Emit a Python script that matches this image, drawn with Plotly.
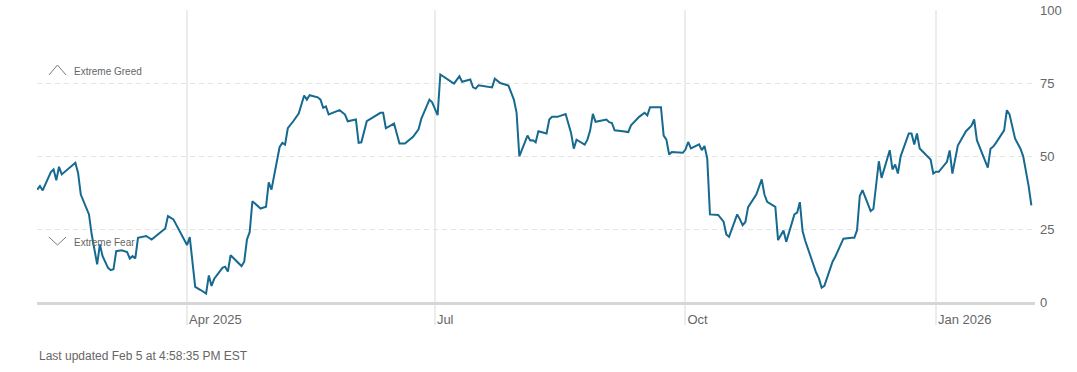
import plotly.graph_objects as go

dates = [
    "2025-02-05", "2025-02-06", "2025-02-07", "2025-02-10", "2025-02-11", "2025-02-12", "2025-02-13", "2025-02-14",
    "2025-02-19", "2025-02-20", "2025-02-21", "2025-02-24", "2025-02-25", "2025-02-27", "2025-02-28", "2025-03-01",
    "2025-03-03", "2025-03-04", "2025-03-05", "2025-03-06", "2025-03-08", "2025-03-10", "2025-03-11", "2025-03-12",
    "2025-03-13", "2025-03-14", "2025-03-17", "2025-03-19", "2025-03-24", "2025-03-25", "2025-03-27", "2025-04-01",
    "2025-04-02", "2025-04-04", "2025-04-06", "2025-04-08", "2025-04-09", "2025-04-10", "2025-04-11", "2025-04-13",
    "2025-04-14", "2025-04-15", "2025-04-16", "2025-04-17", "2025-04-19", "2025-04-21", "2025-04-22", "2025-04-23",
    "2025-04-24", "2025-04-25", "2025-04-28", "2025-04-30", "2025-05-01", "2025-05-02", "2025-05-05", "2025-05-06",
    "2025-05-07", "2025-05-08", "2025-05-10", "2025-05-12", "2025-05-14", "2025-05-15", "2025-05-16", "2025-05-19",
    "2025-05-20", "2025-05-21", "2025-05-22", "2025-05-23", "2025-05-27", "2025-05-28", "2025-05-29", "2025-05-30",
    "2025-06-02", "2025-06-03", "2025-06-04", "2025-06-06", "2025-06-11", "2025-06-12", "2025-06-13", "2025-06-16",
    "2025-06-18", "2025-06-20", "2025-06-23", "2025-06-25", "2025-06-26", "2025-06-29", "2025-06-30", "2025-07-02",
    "2025-07-03", "2025-07-08", "2025-07-10", "2025-07-11", "2025-07-14", "2025-07-15", "2025-07-16", "2025-07-17",
    "2025-07-21", "2025-07-22", "2025-07-23", "2025-07-25", "2025-07-28", "2025-07-30", "2025-07-31", "2025-08-01",
    "2025-08-04", "2025-08-05", "2025-08-06", "2025-08-07", "2025-08-08", "2025-08-11", "2025-08-12", "2025-08-13",
    "2025-08-15", "2025-08-18", "2025-08-20", "2025-08-21", "2025-08-22", "2025-08-25", "2025-08-26", "2025-08-27",
    "2025-08-28", "2025-08-29", "2025-09-02", "2025-09-03", "2025-09-04", "2025-09-05", "2025-09-08", "2025-09-10",
    "2025-09-11", "2025-09-14", "2025-09-16", "2025-09-17", "2025-09-18", "2025-09-22", "2025-09-23", "2025-09-24",
    "2025-09-25", "2025-09-26", "2025-09-30", "2025-10-01", "2025-10-02", "2025-10-03", "2025-10-06", "2025-10-07",
    "2025-10-08", "2025-10-09", "2025-10-10", "2025-10-13", "2025-10-15", "2025-10-16", "2025-10-17", "2025-10-20",
    "2025-10-21", "2025-10-22", "2025-10-23", "2025-10-24", "2025-10-27", "2025-10-29", "2025-10-30", "2025-10-31",
    "2025-11-03", "2025-11-04", "2025-11-06", "2025-11-07", "2025-11-10", "2025-11-11", "2025-11-12", "2025-11-13",
    "2025-11-14", "2025-11-18", "2025-11-19", "2025-11-20", "2025-11-21", "2025-11-24", "2025-11-25", "2025-11-28",
    "2025-12-01", "2025-12-02", "2025-12-03", "2025-12-04", "2025-12-05", "2025-12-08", "2025-12-09", "2025-12-11",
    "2025-12-12", "2025-12-15", "2025-12-16", "2025-12-17", "2025-12-18", "2025-12-19", "2025-12-22", "2025-12-23",
    "2025-12-24", "2025-12-25", "2025-12-26", "2025-12-29", "2025-12-30", "2025-12-31", "2026-01-01", "2026-01-02",
    "2026-01-05", "2026-01-06", "2026-01-07", "2026-01-09", "2026-01-12", "2026-01-14", "2026-01-15", "2026-01-16",
    "2026-01-18", "2026-01-20", "2026-01-21", "2026-01-22", "2026-01-23", "2026-01-26", "2026-01-27", "2026-01-28",
    "2026-01-30", "2026-02-01", "2026-02-02", "2026-02-04", "2026-02-05",
]

index_values = [
    38.5, 39.7, 38.2, 44.5, 45.4, 41.7, 46.3, 43.7,
    47.7, 44.2, 36.8, 30.0, 23.1, 12.9, 19.7, 15.7,
    11.7, 10.9, 11.2, 17.4, 17.7, 17.1, 14.9, 15.7,
    14.9, 22.0, 22.6, 21.4, 25.2, 29.4, 28.3, 19.5,
    22.2, 5.2, 4.1, 2.9, 9.1, 5.5, 8.0, 10.6,
    11.7, 12.1, 10.4, 16.0, 14.3, 12.3, 13.8, 21.4,
    23.9, 34.5, 32.0, 32.6, 41.0, 38.5, 53.1, 54.5,
    53.9, 59.5, 61.9, 64.5, 70.7, 69.3, 70.8, 70.1,
    69.3, 66.5, 67.0, 64.2, 65.7, 64.8, 64.2, 61.9,
    62.5, 54.5, 54.7, 61.9, 64.8, 64.8, 59.5, 61.1,
    54.3, 54.3, 56.6, 59.1, 62.7, 69.3, 68.4, 64.0,
    77.9, 74.8, 77.3, 75.4, 76.2, 73.5, 73.1, 74.2,
    73.5, 73.5, 76.5, 75.0, 74.1, 69.3, 64.8, 49.9,
    57.0, 55.3, 55.4, 54.7, 58.5, 57.7, 62.5, 63.4,
    63.4, 64.4, 57.9, 52.5, 55.6, 53.9, 55.6, 58.7,
    64.4, 61.7, 62.5, 61.6, 61.3, 58.8, 58.5, 58.2,
    60.5, 63.4, 64.8, 63.9, 66.7, 66.7, 57.0, 55.6,
    50.5, 51.4, 51.1, 52.2, 54.8, 52.6, 54.0, 52.0,
    53.4, 49.1, 30.0, 29.8, 27.5, 23.1, 22.3, 30.0,
    28.3, 26.3, 27.4, 32.5, 36.8, 42.0, 36.8, 34.3,
    32.6, 21.2, 24.5, 20.6, 30.0, 30.6, 34.2, 24.3,
    20.9, 10.0, 8.1, 4.9, 5.5, 13.8, 15.5, 21.7,
    22.0, 22.0, 24.6, 36.3, 38.3, 31.1, 31.9, 48.2,
    42.5, 52.0, 45.4, 47.1, 44.0, 49.9, 57.7, 57.7,
    53.9, 57.7, 52.6, 49.7, 48.8, 44.0, 44.6, 44.6,
    48.0, 51.9, 44.0, 53.6, 58.5, 60.4, 62.5, 55.4,
    50.7, 46.0, 52.5, 53.2, 54.5, 58.8, 65.7, 64.2,
    56.0, 52.5, 49.9, 39.7, 33.1,
]

x_tick_vals = ["2025-04-01", "2025-07-01", "2025-10-01", "2026-01-01"]
x_tick_text = ["Apr 2025", "Jul", "Oct", "Jan 2026"]
y_tick_vals = [0, 25, 50, 75, 100]
y_tick_text = ["0", "25", "50", "75", "100"]

FONT = "Liberation Sans, Arial, Helvetica, sans-serif"
GRAY = "#666666"
ICON = "#7a7a7a"

fig = go.Figure()
fig.add_trace(go.Scatter(
    x=dates, y=index_values, mode="lines",
    line=dict(color="#16698f", width=2),
    hoverinfo="skip", showlegend=False,
))

fig.update_layout(
    width=1077, height=372, autosize=False,
    margin=dict(l=37, r=42, t=10, b=70),
    paper_bgcolor="white", plot_bgcolor="white",
    font=dict(family=FONT, color=GRAY, size=13),
    xaxis=dict(
        type="date", automargin=False,
        range=["2025-02-04 22:00", "2026-02-06 08:00"],
        tickmode="array", tickvals=x_tick_vals, ticktext=x_tick_text,
        showgrid=True, gridcolor="#ececec", gridwidth=1.5,
        ticks="outside", ticklen=20, tickcolor="#ececec", tickwidth=1.5,
        ticklabelposition="outside right", ticklabelstandoff=4,
        tickfont=dict(size=13, color=GRAY),
        showline=True, linecolor="#d6d6d6", linewidth=2.5,
        zeroline=False, fixedrange=True,
    ),
    yaxis=dict(
        side="right", range=[0, 100], automargin=False,
        tickmode="array", tickvals=y_tick_vals, ticktext=y_tick_text,
        showgrid=True, gridcolor="#e4e4e4", griddash="5px,4px", gridwidth=1,
        zeroline=False, showline=False,
        ticks="", ticklabelstandoff=4,
        tickfont=dict(size=13, color=GRAY),
        fixedrange=True,
    ),
    shapes=[
        dict(type="path", xref="paper", yref="paper",
             path="M 0.0120 0.7774 L 0.0205 0.8116 L 0.0291 0.7774",
             line=dict(color=ICON, width=1)),
        dict(type="path", xref="paper", yref="paper",
             path="M 0.0120 0.2226 L 0.0205 0.1952 L 0.0291 0.2226",
             line=dict(color=ICON, width=1)),
    ],
    annotations=[
        dict(xref="paper", yref="paper", x=0.0355, y=0.788, text="Extreme Greed", showarrow=False,
             font=dict(family=FONT, size=10, color=GRAY), xanchor="left", yanchor="middle"),
        dict(xref="paper", yref="paper", x=0.0355, y=0.205, text="Extreme Fear", showarrow=False,
             font=dict(family=FONT, size=10, color=GRAY), xanchor="left", yanchor="middle"),
        dict(xref="paper", yref="paper", x=0, y=-0.185, text="Last updated Feb 5 at 4:58:35 PM EST",
             showarrow=False, font=dict(family=FONT, size=12, color=GRAY),
             xanchor="left", yanchor="middle"),
    ],
)

fig.write_html("out.html", config={"displayModeBar": False},
               post_script="document.body.style.margin='0';")
